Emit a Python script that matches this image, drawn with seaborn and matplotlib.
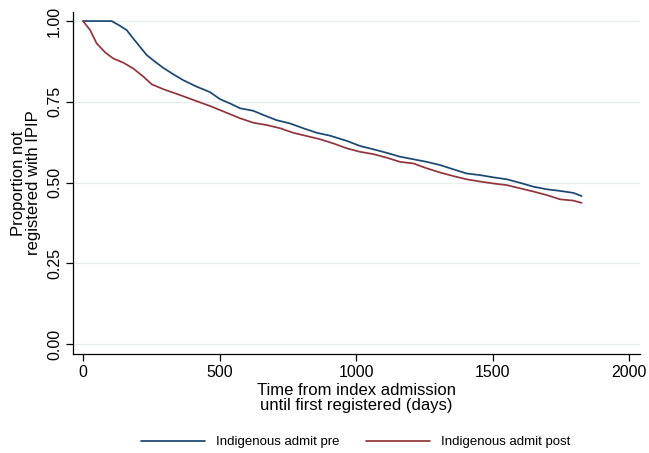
import matplotlib
matplotlib.use("Agg")
import matplotlib.pyplot as plt
import seaborn as sns
import pandas as pd
from matplotlib.lines import Line2D

# Data (Kaplan-Meier style curves)
days_pre = [0, 105, 136, 160, 184, 209, 233, 264, 294, 331, 367, 416, 465, 502, 538,
            575, 624, 661, 709, 758, 807, 856, 905, 966, 1015, 1063, 1112, 1161, 1210,
            1259, 1308, 1356, 1405, 1454, 1503, 1552, 1601, 1650, 1699, 1747, 1796, 1826]
vals_pre = [1.0, 1.0, 0.985, 0.972, 0.946, 0.920, 0.895, 0.874, 0.855, 0.835, 0.817,
            0.797, 0.780, 0.758, 0.745, 0.730, 0.722, 0.709, 0.693, 0.683, 0.668, 0.654,
            0.645, 0.629, 0.613, 0.603, 0.592, 0.580, 0.572, 0.564, 0.554, 0.541, 0.528,
            0.523, 0.516, 0.510, 0.499, 0.487, 0.479, 0.474, 0.468, 0.458]

days_post = [0, 4, 26, 50, 81, 111, 148, 184, 221, 252, 294, 355, 416, 465, 526, 575,
             624, 673, 722, 770, 819, 868, 917, 966, 1015, 1063, 1112, 1161, 1210, 1259,
             1308, 1356, 1405, 1454, 1503, 1552, 1601, 1650, 1699, 1747, 1796, 1826]
vals_post = [1.0, 0.996, 0.972, 0.931, 0.903, 0.884, 0.871, 0.853, 0.828, 0.804, 0.789,
             0.771, 0.752, 0.737, 0.716, 0.699, 0.685, 0.678, 0.668, 0.654, 0.644, 0.634,
             0.621, 0.606, 0.595, 0.588, 0.577, 0.564, 0.559, 0.544, 0.531, 0.520, 0.510,
             0.503, 0.497, 0.492, 0.482, 0.472, 0.461, 0.448, 0.444, 0.437]

series_names = ["Indigenous admit pre", "Indigenous admit post"]
colors = ["#1a476f", "#90353b"]
x_ticks = [0, 500, 1000, 1500, 2000]
y_ticks = [0.0, 0.25, 0.5, 0.75, 1.0]
y_ticklabels = ["0.00", "0.25", "0.50", "0.75", "1.00"]

df = pd.concat([
    pd.DataFrame({"day": days_pre, "value": vals_pre, "group": series_names[0]}),
    pd.DataFrame({"day": days_post, "value": vals_post, "group": series_names[1]}),
], ignore_index=True)

sns.set_theme(style="white")
plt.rcParams["font.family"] = ["Liberation Sans", "DejaVu Sans"]
plt.rcParams["text.color"] = "black"
plt.rcParams["axes.labelcolor"] = "black"

fig = plt.figure(figsize=(6.49, 4.53), dpi=100)
ax = fig.add_axes([73/649, 1-354/453, (640-73)/649, (354-12)/453])

sns.lineplot(data=df, x="day", y="value", hue="group", hue_order=series_names,
             palette=colors, ax=ax, linewidth=1.25, legend=False, estimator=None,
             sort=False)

ax.set_xlim(-36.6, 2040)
ax.set_ylim(-0.031, 1.028)
ax.set_xticks(x_ticks)
ax.set_xticklabels([str(t) for t in x_ticks], fontsize=11.5)
ax.set_yticks(y_ticks)
ax.set_yticklabels(y_ticklabels, fontsize=11.5, rotation=90, va="center")
ax.grid(axis="y", color="#e6eeef", linewidth=1.0)
ax.grid(axis="x", visible=False)
ax.set_axisbelow(True)

for s in ["top", "right"]:
    ax.spines[s].set_visible(False)
for s in ["left", "bottom"]:
    ax.spines[s].set_color("black")
    ax.spines[s].set_linewidth(0.9)
ax.tick_params(axis="both", direction="out", length=5, width=0.9, color="black",
               labelcolor="black", pad=3, bottom=True, left=True)

ax.set_xlabel("Time from index admission\nuntil first registered (days)", fontsize=12,
              labelpad=2, linespacing=1.0, color="black")
ax.set_ylabel("Proportion not\nregistered with IPIP", fontsize=12, labelpad=4,
              linespacing=1.0, color="black")

handles = [Line2D([0], [0], color=c, lw=1.25) for c in colors]
fig.legend(handles, series_names, loc="center", bbox_to_anchor=(356/649, 1-442/453),
           ncol=2, frameon=False, fontsize=9.5, handlelength=4.85, handletextpad=0.85,
           columnspacing=2.0, labelcolor="black")

fig.patch.set_facecolor("white")
fig.savefig("out.png", dpi=100, facecolor="white")
